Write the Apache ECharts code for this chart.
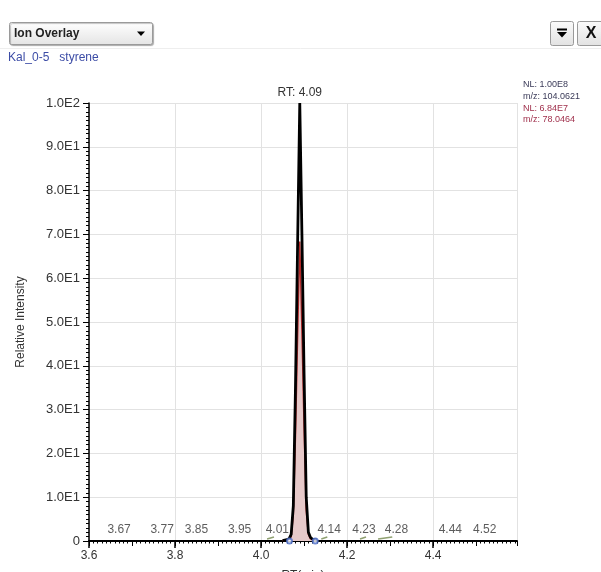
<!DOCTYPE html>
<html>
<head>
<meta charset="utf-8">
<script src="https://cdn.jsdelivr.net/npm/echarts@6/dist/echarts.min.js"></script>
<style>
  html, body { margin: 0; padding: 0; background: #fff; }
  #chart { width: 601px; height: 572px; }
</style>
</head>
<body>
<div id="chart"></div>
<script>
// Retention times (min) of the extracted-ion chromatogram scans around the styrene peak
const rtScans = [4.050, 4.055, 4.060, 4.065, 4.070, 4.075, 4.080, 4.085, 4.090, 4.095, 4.100, 4.105, 4.110, 4.115, 4.120, 4.125, 4.130];
// m/z 104.0621 trace, relative intensity (NL 1.00E8)
const ion104 = [0.1, 0.2, 0.3, 0.5, 1.5, 8, 35, 68, 100, 70, 38, 10, 2, 0.8, 0.4, 0.3, 0.2];
// m/z 78.0464 trace, relative intensity (NL 6.84E7)
const ion78 = [0.1, 0.1, 0.2, 0.4, 1.0, 6, 24, 47, 68.4, 48, 26, 7, 1.5, 0.5, 0.3, 0.2, 0.1];
// Apex retention time
const apexRT = 4.09;
// Retention times of the small labelled baseline peaks
const minorPeakRT = [3.67, 3.77, 3.85, 3.95, 4.01, 4.14, 4.23, 4.28, 4.44, 4.52];
// Start / end retention times of the small detected baseline peaks
const blipStart = [4.014, 4.140, 4.230, 4.272];
const blipEnd   = [4.030, 4.154, 4.244, 4.305];
// Integration boundaries of the main peak
const peakBounds = [4.066, 4.126];

const font = 'Arial, "Liberation Sans", sans-serif';
// horizontal nudges (px) keeping crowded peak labels clear of each other
const labelNudge = { '4.01': 12, '4.14': 8, '4.23': 4, '4.28': 15 };

const chart = echarts.init(document.getElementById('chart'), null, { renderer: 'canvas' });
const fmtY = v => v === 0 ? '0' : v.toExponential(1).toUpperCase().replace('+', '');
const rect = { left: 89, right: 84, top: 103, bottom: 31, containLabel: false, outerBoundsMode: 'none' };
const X_MIN = 3.6, X_MAX = 4.595;

chart.setOption({
  animation: false,
  backgroundColor: '#ffffff',
  grid: [Object.assign({}, rect), Object.assign({}, rect), Object.assign({}, rect)],
  xAxis: [
    {
      gridIndex: 0, type: 'value', min: X_MIN, max: X_MAX, interval: 0.2,
      name: 'RT(min)', nameLocation: 'middle', nameGap: 29,
      nameTextStyle: { color: '#333', fontSize: 12, fontFamily: font },
      axisLine: { onZero: false, lineStyle: { color: '#000', width: 2 } },
      axisTick: { length: 7, lineStyle: { color: '#000', width: 1.5 } },
      axisLabel: { color: '#333', fontSize: 12, fontFamily: font, margin: 9, showMaxLabel: false,
                   formatter: v => v.toFixed(1) },
      splitLine: { show: true, lineStyle: { color: '#e2e2e2', width: 1 } }
    },
    {
      gridIndex: 1, type: 'value', min: X_MIN, max: X_MAX, interval: 0.1, position: 'bottom',
      axisLine: { show: false, onZero: false },
      axisTick: { length: 5, lineStyle: { color: '#000', width: 1 } },
      axisLabel: { show: false }, splitLine: { show: false }
    },
    {
      gridIndex: 2, type: 'value', min: X_MIN, max: X_MAX, interval: 0.01, position: 'bottom',
      axisLine: { show: false, onZero: false },
      axisTick: { length: 2.5, lineStyle: { color: '#000', width: 1 } },
      axisLabel: { show: false }, splitLine: { show: false }
    }
  ],
  yAxis: [
    {
      gridIndex: 0, type: 'value', min: 0, max: 100, interval: 10,
      name: 'Relative Intensity', nameLocation: 'middle', nameGap: 62,
      nameTextStyle: { color: '#333', fontSize: 12, fontFamily: font },
      axisLine: { show: true, onZero: false, lineStyle: { color: '#000', width: 1.5 } },
      axisTick: { length: 6, lineStyle: { color: '#000', width: 1 } },
      axisLabel: { color: '#333', fontSize: 13, fontFamily: font, margin: 9, formatter: fmtY },
      splitLine: { show: true, lineStyle: { color: '#e2e2e2', width: 1 } }
    },
    {
      gridIndex: 1, type: 'value', min: 0, max: 100, interval: 10, show: false
    },
    {
      gridIndex: 2, type: 'value', min: 0, max: 100, interval: 1,
      axisLine: { show: false, onZero: false },
      axisTick: { length: 3, lineStyle: { color: '#000', width: 1 } },
      axisLabel: { show: false }, splitLine: { show: false }
    }
  ],
  series: [
    {
      name: 'm/z 78.0464', type: 'line', z: 2,
      data: rtScans.map((t, i) => [t, ion78[i]]),
      showSymbol: false, smooth: false,
      lineStyle: { color: '#b02828', width: 1.5 },
      areaStyle: { color: '#e6c9c9', opacity: 1 }
    },
    {
      name: 'm/z 104.0621', type: 'line', z: 3,
      data: rtScans.map((t, i) => [t, ion104[i]]),
      showSymbol: false, smooth: false,
      lineStyle: { color: '#000000', width: 2.8 },
      markPoint: {
        symbol: 'circle', symbolSize: 1,
        itemStyle: { color: 'rgba(0,0,0,0)' },
        data: [{ coord: [apexRT, 100], value: 'RT: ' + apexRT.toFixed(2) }],
        label: { show: true, position: 'top', distance: 4, color: '#333', fontSize: 12, fontFamily: font,
                 formatter: p => p.value }
      }
    },
    {
      name: 'baseline peaks', type: 'custom', z: 3,
      data: blipStart.map((t, i) => [t, blipEnd[i]]),
      renderItem: (params, api) => {
        const a = api.coord([api.value(0), 0]);
        const b = api.coord([api.value(1), 0]);
        return { type: 'line', shape: { x1: a[0], y1: a[1] - 2, x2: b[0], y2: b[1] - 4 },
                 style: { stroke: '#8fa070', lineWidth: 1.5 } };
      }
    },
    {
      name: 'bounds', type: 'scatter', z: 4,
      data: peakBounds.map(t => [t, 0]),
      symbol: 'emptyCircle', symbolSize: 5,
      itemStyle: { color: '#4a6cc8', borderColor: '#4a6cc8', borderWidth: 1 }
    },
    {
      name: 'minor peaks', type: 'scatter', z: 4,
      data: minorPeakRT.map(t => ({
        value: [t, 0],
        label: { offset: [labelNudge[t.toFixed(2)] || 0, 0] }
      })),
      symbolSize: 0,
      label: { show: true, position: 'top', distance: 5, color: '#333', fontSize: 12, fontFamily: font,
               formatter: p => p.value[0].toFixed(2) }
    }
  ],
  graphic: [
    // header separator
    { type: 'line', shape: { x1: 0, y1: 48.5, x2: 601, y2: 48.5 }, style: { stroke: '#eeeeee', lineWidth: 1 } },
    // dropdown box
    { type: 'rect', shape: { x: 9.5, y: 22.5, width: 143, height: 22, r: 2 },
      style: { fill: new echarts.graphic.LinearGradient(0, 0, 0, 1, [
        { offset: 0, color: '#ffffff' }, { offset: 1, color: '#e4e4e4' }]),
        stroke: '#9a9a9a', lineWidth: 1,
        shadowColor: 'rgba(0,0,0,0.25)', shadowOffsetX: 1, shadowOffsetY: 1, shadowBlur: 1 } },
    { type: 'text', x: 14, y: 34, style: { text: 'Ion Overlay', fill: '#222', font: 'bold 12px Arial, "Liberation Sans", sans-serif', verticalAlign: 'middle' } },
    { type: 'polygon', shape: { points: [[137, 31.5], [145, 31.5], [141, 36]] }, style: { fill: '#000' } },
    // toolbar buttons
    { type: 'rect', shape: { x: 550.5, y: 21.5, width: 23, height: 24, r: 2 },
      style: { fill: new echarts.graphic.LinearGradient(0, 0, 0, 1, [
        { offset: 0, color: '#fbfbfb' }, { offset: 1, color: '#e2e2e2' }]), stroke: '#9a9a9a', lineWidth: 1 } },
    { type: 'line', shape: { x1: 557, y1: 29.5, x2: 567, y2: 29.5 }, style: { stroke: '#000', lineWidth: 2 } },
    { type: 'polygon', shape: { points: [[557, 32], [567, 32], [562, 37.5]] }, style: { fill: '#000' } },
    { type: 'rect', shape: { x: 577.5, y: 21.5, width: 26, height: 24, r: 2 },
      style: { fill: new echarts.graphic.LinearGradient(0, 0, 0, 1, [
        { offset: 0, color: '#fbfbfb' }, { offset: 1, color: '#e2e2e2' }]), stroke: '#9a9a9a', lineWidth: 1 } },
    { type: 'text', x: 591, y: 34, style: { text: 'X', fill: '#111', font: 'bold 16px Arial, "Liberation Sans", sans-serif', align: 'center', verticalAlign: 'middle' } },
    // sample / compound caption
    { type: 'text', x: 8, y: 58, style: { text: 'Kal_0-5   styrene', fill: '#3c4ca6', font: '12px Arial, "Liberation Sans", sans-serif', verticalAlign: 'middle' } },
    // normalisation levels
    { type: 'text', x: 523, y: 85, style: { text: 'NL: 1.00E8', fill: '#3a3a58', font: '9px Arial, "Liberation Sans", sans-serif', verticalAlign: 'middle' } },
    { type: 'text', x: 523, y: 97, style: { text: 'm/z: 104.0621', fill: '#3a3a58', font: '9px Arial, "Liberation Sans", sans-serif', verticalAlign: 'middle' } },
    { type: 'text', x: 523, y: 108.5, style: { text: 'NL: 6.84E7', fill: '#a0304c', font: '9px Arial, "Liberation Sans", sans-serif', verticalAlign: 'middle' } },
    { type: 'text', x: 523, y: 120, style: { text: 'm/z: 78.0464', fill: '#a0304c', font: '9px Arial, "Liberation Sans", sans-serif', verticalAlign: 'middle' } }
  ]
});
</script>
</body>
</html>
